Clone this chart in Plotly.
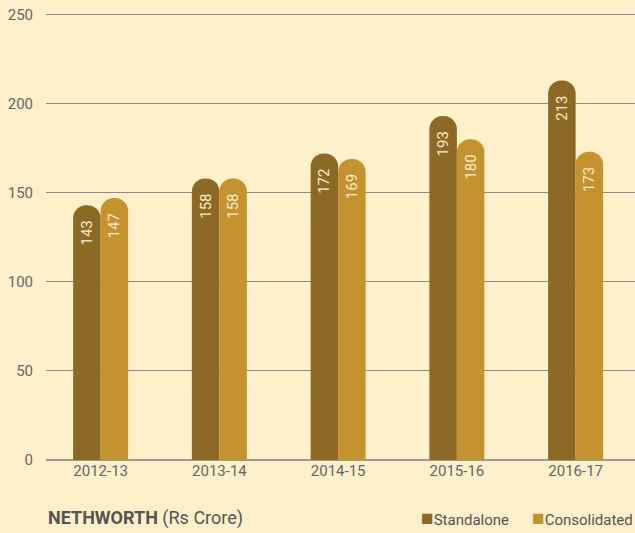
import plotly.graph_objects as go

years = ["2012-13", "2013-14", "2014-15", "2015-16", "2016-17"]
standalone = [143, 158, 172, 193, 213]
consolidated = [147, 158, 169, 180, 173]
y_ticks = [0, 50, 100, 150, 200, 250]
series_names = ["Standalone", "Consolidated"]

FONT = "Roboto, sans-serif"
BG = "#FEF0CA"
C_STAND = "#8C6A26"
C_CONS = "#C4922E"
PAD = "\u2002"

fig = go.Figure()
for name, vals, col in [(series_names[0], standalone, C_STAND), (series_names[1], consolidated, C_CONS)]:
    fig.add_trace(go.Bar(
        name=name, x=years, y=vals, marker=dict(color=col, cornerradius="50%", line=dict(width=0)),
        text=[str(v) + PAD for v in vals], textposition="inside", insidetextanchor="end",
        textangle=-90, textfont=dict(family=FONT, size=15, color="#F7EBCB"),
        cliponaxis=False, showlegend=False,
    ))

sq = "<span style='color:{c};font-size:21px'>■</span>"
legend_text = (sq.format(c=C_STAND) + series_names[0] + "\u2003\u2002"
               + sq.format(c=C_CONS) + series_names[1])

fig.update_layout(
    width=635, height=533,
    paper_bgcolor=BG, plot_bgcolor=BG,
    margin=dict(l=46, r=0, t=11, b=73),
    barmode="group", bargap=0.537, bargroupgap=0,
    font=dict(family=FONT, color="#666666", size=15),
    xaxis=dict(range=[-0.46, 4.5], showgrid=False, showline=False, zeroline=False,
               ticks="", tickfont=dict(size=15, color="#666666")),
    yaxis=dict(range=[0, 252], tickvals=y_ticks, showgrid=True, gridcolor="#8A8A8A", gridwidth=1,
               zeroline=True, zerolinecolor="#A09A8A", zerolinewidth=2, showline=False,
               ticks="outside", ticklen=9, tickcolor="rgba(0,0,0,0)",
               tickfont=dict(size=15, color="#666666")),
    annotations=[
        dict(text="<b>NETHWORTH</b> (Rs Crore)", xref="paper", yref="paper",
             x=0, y=-0.13, xanchor="left", yanchor="middle", showarrow=False,
             font=dict(family=FONT, size=18, color="#555555")),
        dict(text=legend_text, xref="paper", yref="paper",
             x=1.0, y=-0.13, xanchor="right", yanchor="middle", showarrow=False,
             font=dict(family=FONT, size=15, color="#555555")),
    ],
)

fig.write_html("out.html", config={"displayModeBar": False},
               post_script="document.body.style.margin='0';document.body.style.overflow='hidden';")
